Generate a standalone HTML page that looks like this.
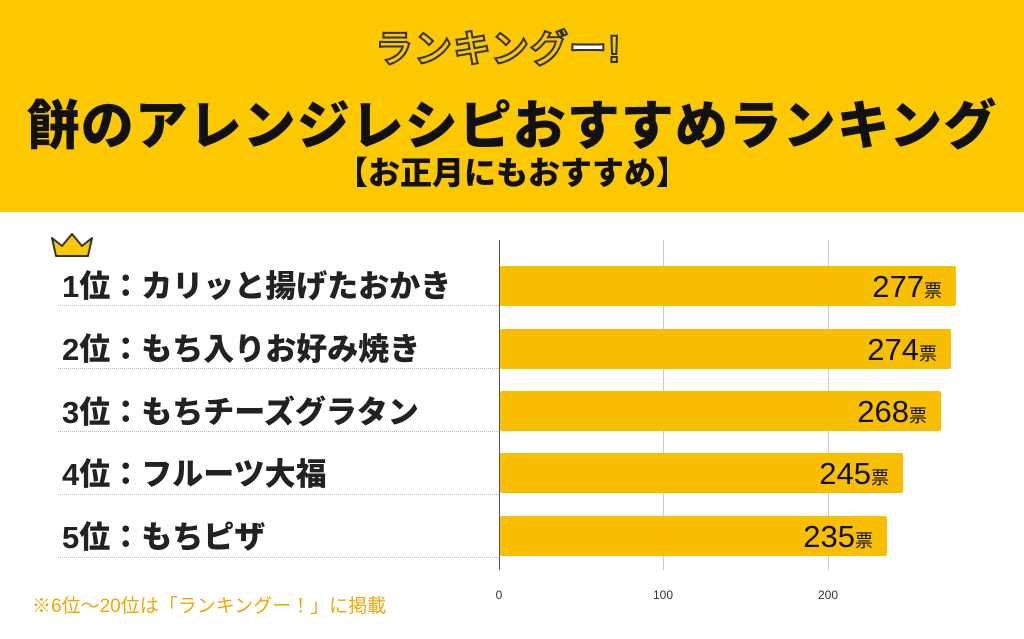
<!DOCTYPE html>
<html><head><meta charset="utf-8"><style>
body{margin:0;width:1024px;height:639px;overflow:hidden;background:#fff;font-family:"Liberation Sans","Noto Sans CJK JP",sans-serif;position:relative}
.hdr{position:absolute;left:0;top:0;width:1024px;height:212px;background:#fcc800}
.logo{position:absolute;left:375px;top:18px;font-size:38px;font-weight:bold;color:#fcc800;-webkit-text-stroke:2px #333;letter-spacing:1px}
.t1{position:absolute;left:0;width:1024px;top:84px;text-align:center;font-size:53px;font-weight:900;color:#111;letter-spacing:1px}
.t2{position:absolute;left:0;width:1024px;top:148px;text-align:center;font-size:32px;font-weight:900;color:#111}
.lab{position:absolute;left:62px;font-size:31px;font-weight:900;color:#222;white-space:nowrap}
.sep{position:absolute;left:58px;width:441px;border-top:1px dotted #bbb}
.bar{position:absolute;left:500px;height:40px;background:#f8bf00;border-radius:2px}
.val{position:absolute;right:14px;top:3px;font-size:31px;color:#111}
.val small{font-size:18px}
.grid{position:absolute;top:240px;height:330px;width:1px;background:#ccc}
.tick{position:absolute;top:588px;font-size:12px;color:#333;transform:translateX(-50%)}
.note{position:absolute;left:32px;top:591px;font-size:19px;color:#f0a800}
</style></head><body>
<div class="hdr"></div>
<div class="logo">ランキング<span style="color:#fff">ー</span>!</div>
<div class="t1">餅のアレンジレシピおすすめランキング</div>
<div class="t2">【お正月にもおすすめ】</div>
<svg style="position:absolute;left:50px;top:232px" width="44" height="26"><polygon points="2,6 12,14 22,2 32,14 42,6 38,24 6,24" fill="#fcc800" stroke="#333" stroke-width="2" stroke-linejoin="round"/></svg>
<div class="grid" style="left:499px;background:#555"></div>
<div class="grid" style="left:663px"></div>
<div class="grid" style="left:828px"></div>
<div class="tick" style="left:499px">0</div>
<div class="tick" style="left:663px">100</div>
<div class="tick" style="left:828px">200</div>

<div class="lab" style="top:261px">1位：カリッと揚げたおかき</div>
<div class="sep" style="top:305px"></div>
<div class="bar" style="top:266px;width:456px"><div class="val">277<small>票</small></div></div>

<div class="lab" style="top:324px">2位：もち入りお好み焼き</div>
<div class="sep" style="top:368px"></div>
<div class="bar" style="top:329px;width:451px"><div class="val">274<small>票</small></div></div>

<div class="lab" style="top:387px">3位：もちチーズグラタン</div>
<div class="sep" style="top:431px"></div>
<div class="bar" style="top:391px;width:441px"><div class="val">268<small>票</small></div></div>

<div class="lab" style="top:449px">4位：フルーツ大福</div>
<div class="sep" style="top:494px"></div>
<div class="bar" style="top:453px;width:403px"><div class="val">245<small>票</small></div></div>

<div class="lab" style="top:512px">5位：もちピザ</div>
<div class="sep" style="top:557px"></div>
<div class="bar" style="top:516px;width:387px"><div class="val">235<small>票</small></div></div>

<div class="note">※6位〜20位は「ランキングー！」に掲載</div>
</body></html>
